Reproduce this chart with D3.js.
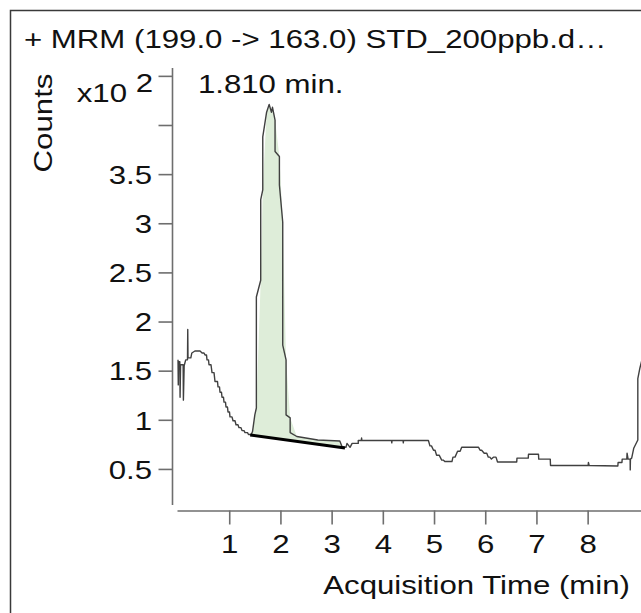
<!DOCTYPE html>
<html>
<head>
<meta charset="utf-8">
<script src="https://cdn.jsdelivr.net/npm/d3@7"></script>
<style>
    body { margin: 0; background: #fff; }
    svg { display: block; }
    text { font-family: "Liberation Sans", Arial, sans-serif; fill: #111; }
</style>
</head>
<body>
<div id="chart"></div>
<script>
// chart data (counts are x10^2)
var titleText = "+ MRM (199.0 -> 163.0) STD_200ppb.d\u2026";
var peakTime = 1.81;
var peakLabel = "1.810 min.";

var traceTime = [
    0.00, 0.005, 0.01, 0.035, 0.04, 0.05, 0.10, 0.105, 0.12, 0.15, 0.185, 0.19, 0.195, 0.25, 0.27,
    0.33, 0.43, 0.47, 0.507, 0.527, 0.556, 0.566, 0.595, 0.605, 0.644, 0.664, 0.703, 0.722, 0.771,
    0.781, 0.810, 0.820, 0.849, 0.859, 0.888, 0.898, 0.927, 0.937, 0.966, 0.976, 1.005, 1.015,
    1.054, 1.074, 1.113, 1.132, 1.171, 1.191, 1.230, 1.250, 1.289, 1.308, 1.357, 1.376, 1.43,
    1.455, 1.50, 1.53, 1.53, 1.615, 1.615, 1.655, 1.655, 1.73, 1.78, 1.825,
    1.845, 1.895, 1.895, 1.98, 1.98, 2.045, 2.045, 2.11, 2.11, 2.19, 2.19, 2.32, 2.73, 3.16,
    3.20, 3.28, 3.30, 3.36, 3.40, 3.52, 3.52, 3.58, 3.585, 3.59, 4.17, 4.175, 4.18, 4.395, 4.40,
    4.405, 4.86, 4.89, 4.92, 4.95, 4.99, 5.02, 5.05, 5.10, 5.15, 5.18, 5.21, 5.35, 5.37, 5.41,
    5.46, 5.51, 5.54, 5.57, 5.87, 5.90, 5.93, 5.98, 6.03, 6.06, 6.09,
    6.12, 6.16, 6.21, 6.24, 6.32, 6.615, 6.62, 6.84, 6.845, 7.04, 7.045, 7.27, 7.275, 7.36, 8.01, 8.015, 8.03,
    8.59, 8.595, 8.67, 8.675, 8.765, 8.77, 8.79, 8.83, 8.832, 8.836, 8.86, 8.90, 8.98, 8.98, 9.02,
    9.06
];
var traceCounts = [
    1.61, 1.355, 1.59, 1.59, 1.23, 1.56, 1.56, 1.20, 1.55, 1.61, 1.61, 1.92, 1.63, 1.63, 1.68,
    1.70, 1.70, 1.68, 1.68, 1.66, 1.66, 1.61, 1.61, 1.56, 1.56, 1.48, 1.48, 1.39, 1.39,
    1.335, 1.335, 1.28, 1.28, 1.23, 1.23, 1.18, 1.18, 1.13, 1.13, 1.08, 1.08, 1.03,
    1.03, 0.99, 0.99, 0.95, 0.95, 0.92, 0.92, 0.89, 0.89, 0.87, 0.87, 0.85, 0.85,
    0.88, 1.05, 1.12, 2.25, 2.42, 3.24, 3.34, 3.88, 4.13, 4.21, 4.13,
    4.18, 4.05, 3.73, 3.68, 3.39, 3.01, 1.76, 1.61, 1.05, 1.02, 0.87, 0.83, 0.795, 0.785,
    0.73, 0.72, 0.76, 0.72, 0.76, 0.76, 0.79, 0.79, 0.815, 0.79, 0.79, 0.765, 0.79, 0.79, 0.765,
    0.79, 0.79, 0.79, 0.735, 0.735, 0.69, 0.69, 0.64, 0.64, 0.59, 0.59, 0.575, 0.575, 0.62, 0.62,
    0.68, 0.68, 0.72, 0.72, 0.72, 0.69, 0.69, 0.66, 0.66, 0.62, 0.62,
    0.60, 0.62, 0.62, 0.57, 0.57, 0.57, 0.61, 0.61, 0.65, 0.65, 0.60, 0.60, 0.535, 0.535, 0.535, 0.565, 0.535,
    0.53, 0.565, 0.565, 0.60, 0.60, 0.66, 0.60, 0.60, 0.49, 0.60, 0.61, 0.71, 0.795, 1.42, 1.525,
    1.61
];

var baselineTime = [1.41, 3.26];
var baselineCounts = [0.846, 0.714];

var xTicks = [1, 2, 3, 4, 5, 6, 7, 8];
var yTicks = [0.5, 1, 1.5, 2, 2.5, 3, 3.5, 4, 4.5];
var yTickLabels = ["0.5", "1", "1.5", "2", "2.5", "3", "3.5", "", ""];

var width = 641, height = 613;
var fontSize = 26, stretch = 1.2;

function stretchText(sel) {
    sel.each(function () {
        var t = d3.select(this);
        var tx = +t.attr("x") || 0, ty = +t.attr("y") || 0;
        var rot = t.attr("data-rot");
        t.attr("x", 0).attr("y", 0)
            .attr("transform", "translate(" + tx + "," + ty + ")" + (rot ? " rotate(" + rot + ")" : "") + " scale(" + stretch + ",1)");
    });
}

function baselineAt(t) {
    var k = (t - baselineTime[0]) / (baselineTime[1] - baselineTime[0]);
    return baselineCounts[0] + k * (baselineCounts[1] - baselineCounts[0]);
}

function traceAt(t) {
    for (var i = 1; i < traceTime.length; i++) {
        if (traceTime[i] >= t) {
            var k = (t - traceTime[i - 1]) / ((traceTime[i] - traceTime[i - 1]) || 1);
            return traceCounts[i - 1] + k * (traceCounts[i] - traceCounts[i - 1]);
        }
    }
    return traceCounts[traceCounts.length - 1];
}

function drawChart() {
    var svg = d3.select("#chart").append("svg")
        .attr("width", width)
        .attr("height", height);

    // outer frame, runs off the right/bottom edges
    svg.append("rect")
        .attr("x", 10.5).attr("y", 10.5)
        .attr("width", width + 20).attr("height", height + 20)
        .attr("fill", "none")
        .attr("stroke", "#3a3a3a")
        .attr("stroke-width", 1.5);

    var x = d3.scaleLinear().domain([-0.02, 9.05]).range([177, 641.4]);
    var y = d3.scaleLinear().domain([0.133, 4.58]).range([505, 68]);

    // peak area above the baseline
    var pts = [];
    pts.push(baselineTime[0]);
    traceTime.forEach(function (t) {
        if (t > baselineTime[0] && t < baselineTime[1]) pts.push(t);
    });
    pts.push(baselineTime[1]);

    var area = d3.area()
        .x(function (t) { return x(t); })
        .y0(function (t) { return y(baselineAt(t)); })
        .y1(function (t) { return y(Math.max(traceAt(t), baselineAt(t))); });

    svg.append("path")
        .datum(pts)
        .attr("d", area)
        .attr("fill", "#deedd9")
        .attr("stroke", "none");

    var line = d3.line()
        .x(function (d) { return x(d[0]); })
        .y(function (d) { return y(d[1]); });

    svg.append("path")
        .datum(d3.zip(traceTime, traceCounts))
        .attr("d", line)
        .attr("fill", "none")
        .attr("stroke", "#404040")
        .attr("stroke-width", 1.4)
        .attr("stroke-linejoin", "round");

    svg.append("path")
        .datum(d3.zip(baselineTime, baselineCounts))
        .attr("d", line)
        .attr("fill", "none")
        .attr("stroke", "#000")
        .attr("stroke-width", 3);

    // axes
    var yAxis = d3.axisLeft(y)
        .tickValues(yTicks)
        .tickSize(14)
        .tickSizeOuter(0)
        .tickFormat(function (d, i) { return yTickLabels[i]; });

    var gy = svg.append("g")
        .attr("transform", "translate(172.5,0)")
        .call(yAxis);

    var xAxis = d3.axisBottom(x)
        .tickValues(xTicks)
        .tickSize(14)
        .tickSizeOuter(0)
        .tickFormat(d3.format("d"));

    var gx = svg.append("g")
        .attr("transform", "translate(0,510.5)")
        .call(xAxis);

    [gx, gy].forEach(function (g) {
        g.selectAll(".domain, .tick line")
            .attr("stroke", "#6e6e6e")
            .attr("stroke-width", 1.6);
        g.selectAll(".tick text")
            .attr("fill", "#111")
            .attr("dy", null)
            .style("font-family", "'Liberation Sans', Arial, sans-serif")
            .style("font-size", fontSize + "px");
    });
    gy.select(".domain").attr("d", "M0,68V505");
    gx.selectAll(".tick text").attr("y", 553 - 510.5);
    gy.selectAll(".tick text").attr("x", -20.5).attr("y", 9.3);
    stretchText(gx.selectAll(".tick text"));
    stretchText(gy.selectAll(".tick text"));

    // labels
    var labels = [
        { text: titleText, x: 24, y: 48, anchor: "start" },
        { text: "x10", x: 127, y: 102, anchor: "end" },
        { text: "2", x: 153, y: 92, anchor: "end" },
        { text: peakLabel, x: x(peakTime), y: 93, anchor: "middle" },
        { text: "Acquisition Time (min)", x: 630, y: 594, anchor: "end" },
        { text: "Counts", x: 52, y: 123, anchor: "middle", rot: -90 }
    ];

    svg.selectAll(".label")
        .data(labels)
        .enter().append("text")
        .attr("class", "label")
        .attr("x", function (d) { return d.x; })
        .attr("y", function (d) { return d.y; })
        .attr("data-rot", function (d) { return d.rot || null; })
        .attr("text-anchor", function (d) { return d.anchor; })
        .style("font-size", fontSize + "px")
        .text(function (d) { return d.text; })
        .call(stretchText);
}

drawChart();
</script>
</body>
</html>
